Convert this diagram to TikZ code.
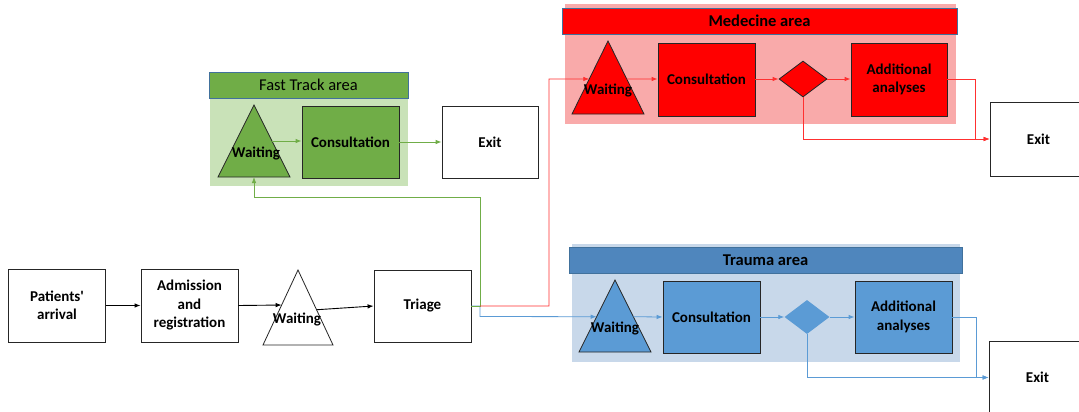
\documentclass[tikz,border=0pt]{standalone}
\usepackage{fontspec}
\setmainfont{Carlito}
\usetikzlibrary{arrows.meta,calc,shapes.geometric}
\definecolor{gfill}{HTML}{70AD47}
\definecolor{gbg}{HTML}{C9E2B8}
\definecolor{rfill}{HTML}{FF0000}
\definecolor{rbg}{HTML}{F9AAAA}
\definecolor{rline}{HTML}{FF3030}
\definecolor{bfill}{HTML}{5B9BD5}
\definecolor{bhead}{HTML}{4F86BD}
\definecolor{bbg}{HTML}{C8D8EA}
\definecolor{hborder}{HTML}{41719C}
\tikzset{
  x=1pt, y=-1pt,
  >={Latex[length=6pt,width=4.5pt]},
  lbl/.style={font=\bfseries\fontsize{15}{18.5}\selectfont, align=center, inner sep=0pt},
  box/.style={lbl, draw=black!85, line width=0.8pt, fill=white, minimum width=97pt, minimum height=73pt},
  tribox/.style={draw=black!85, line width=0.8pt},
  head/.style={draw=hborder, line width=0.6pt, inner sep=0pt, font=\fontsize{16.5}{20}\selectfont},
  dia/.style={diamond, inner sep=0pt, minimum width=48pt, minimum height=36pt},
  blk/.style={->, line width=0.9pt, black},
  gline/.style={->, line width=0.8pt, gfill},
  rln/.style={->, line width=0.8pt, rline},
  bln/.style={->, line width=0.8pt, bfill},
}
\begin{document}
\begin{tikzpicture}
\clip (0,0) rectangle (1079,412);
\fill[white] (0,0) rectangle (1079,412);

% ---------- main line ----------
\node[box] (pa) at (57,305.5) {Patients\textquotesingle\\arrival};
\node[box] (adm) at (189.5,305.5) {Admission\\and\\registration};
\coordinate (bwA) at (298,270);
\coordinate (bwL) at (263,345);
\coordinate (bwR) at (333,345);
\draw[tribox, fill=white] (bwA) -- (bwL) -- (bwR) -- cycle;
\node[lbl] (bwT) at (297,319) {Waiting};
\node[box, minimum width=97pt, minimum height=72pt] (tri) at (422.5,306) {Triage};

\draw[blk] (pa.east) -- (adm.west);
\draw[blk] (adm.east) -- ($(bwA)!0.467!(bwL)$);
\draw[blk] ($(bwA)!0.53!(bwR)$) -- (tri.west);

% ---------- Fast track area ----------
\fill[gbg] (210,72) rectangle (408,186);
\node[head, fill=gfill, minimum width=199pt, minimum height=26pt] (fhead) at (308.5,85) {Fast Track area};
\coordinate (fwA) at (254,105);
\coordinate (fwL) at (218,177);
\coordinate (fwR) at (290,177);
\coordinate (fwB) at (254,177);
\draw[tribox, fill=gfill] (fwA) -- (fwL) -- (fwR) -- cycle;
\node[lbl] (fwT) at (256,153) {Waiting};
\node[box, fill=gfill, minimum height=72pt] (fcons) at (350.5,142) {Consultation};
\node[box, minimum width=96pt, minimum height=72pt] (fexit) at (490,142) {Exit};
\draw[gline] ($(fwA)!0.5!(fwR)$) -- (fcons.west |- 0,141);
\draw[gline] (fcons.east) -- (fexit.west);

% ---------- Medecine area ----------
\fill[rbg] (565,4) rectangle (956,124);
\node[head, fill=rfill, minimum width=395pt, minimum height=26pt, font=\bfseries\fontsize{16.5}{20}\selectfont] (mhead) at (759.5,21) {Medecine area};
\coordinate (mwA) at (608,41);
\coordinate (mwL) at (572,114);
\coordinate (mwR) at (644,114);
\draw[tribox, fill=rfill] (mwA) -- (mwL) -- (mwR) -- cycle;
\node[lbl] (mwT) at (608,90) {Waiting};
\node[box, fill=rfill] (mcons) at (706.5,79.5) {Consultation};
\node[dia, draw=black!85, line width=0.8pt, fill=rfill] (mdia) at (803,79) {};
\node[box, fill=rfill, minimum width=96pt] (madd) at (899,79.5) {Additional\\analyses};
\node[box, minimum height=74pt] (mexit) at (1038.5,139) {Exit};

% ---------- Trauma area ----------
\fill[bbg] (572,244) rectangle (960,362);
\node[head, fill=bhead, minimum width=393pt, minimum height=26pt, font=\bfseries\fontsize{16.5}{20}\selectfont] (thead) at (765.5,260) {Trauma area};
\coordinate (twA) at (615,280);
\coordinate (twL) at (579,352);
\coordinate (twR) at (651,352);
\draw[tribox, fill=bfill] (twA) -- (twL) -- (twR) -- cycle;
\node[lbl] (twT) at (615,328) {Waiting};
\node[box, fill=bfill, minimum height=72pt] (tcons) at (711.5,317) {Consultation};
\node[dia, fill=bfill, minimum width=45pt, minimum height=34pt] (tdia) at (807,317) {};
\node[box, fill=bfill, minimum height=72pt] (tadd) at (903.5,317) {Additional\\analyses};
\node[box, minimum height=73pt] (texit) at (1037.5,377.5) {Exit};

% ---------- connectors from triage ----------
\coordinate (split) at (480,306);
\draw[bln] (tri.east) -- (split) -- (480,316.5) -- ($(twA)!0.51!(twL)$);
\draw[gline] (tri.east) -- (split) -- (480,197) -- (254,197) -- (fwB);
\draw[rln] (split) -- (549,306) -- (549,79) -- ($(mwA)!0.52!(mwL)$);

% ---------- red flow ----------
\draw[rln] ($(mwA)!0.52!(mwR)$) -- (mcons.west |- mdia.west);
\draw[rln] (mcons.east |- mdia.west) -- (mdia.west);
\draw[rln] (mdia.east) -- (madd.west |- mdia.east);
\draw[rln] (madd.east |- mdia.east) -- (975,79) |- (mexit.west);
\draw[rln] (mdia.south) |- (mexit.west);

% ---------- blue flow ----------
\draw[bln] ($(twA)!0.51!(twR)$) -- (tcons.west);
\draw[bln] (tcons.east) -- (tdia.west);
\draw[bln] (tdia.east) -- (tadd.west);
\draw[bln] (tadd.east) -- (976,317) |- (texit.west);
\draw[bln] (tdia.south) |- (texit.west);
\end{tikzpicture}
\end{document}
